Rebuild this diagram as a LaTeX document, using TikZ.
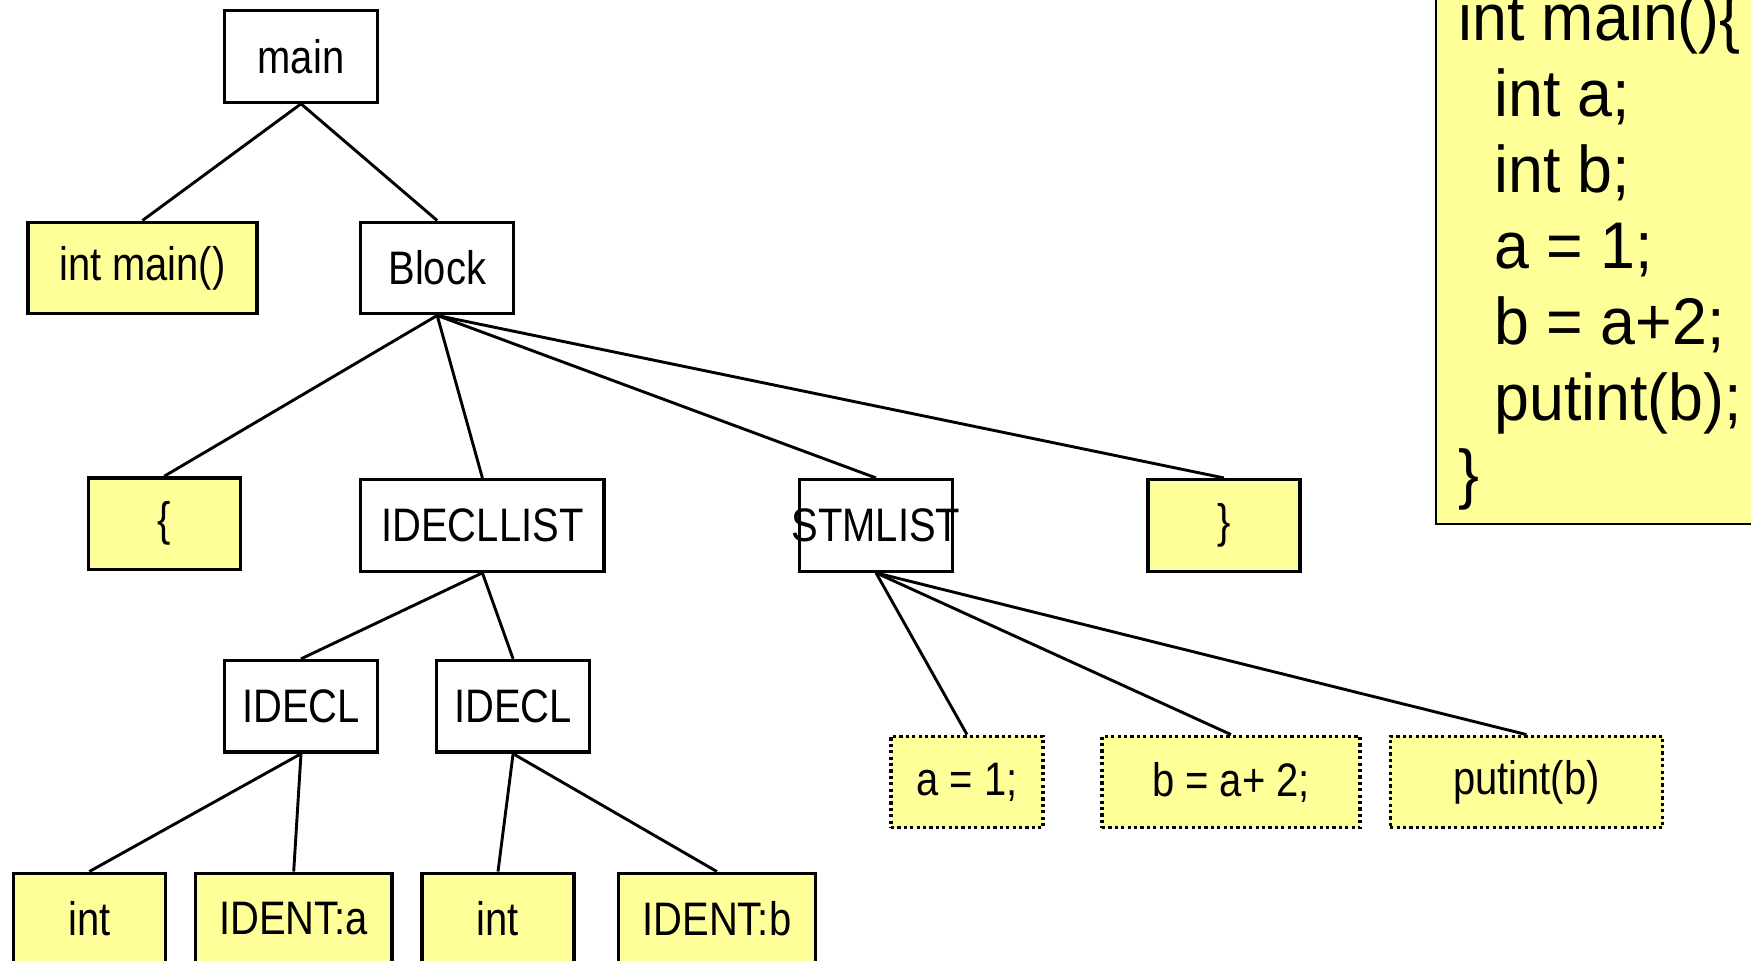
\documentclass[tikz,border=0pt]{standalone}
\usepackage{fontspec}
\newfontfamily\treefont[FakeStretch=0.85]{Liberation Sans}
\newfontfamily\codefont[FakeStretch=0.95]{Liberation Sans}
\definecolor{nodeyellow}{RGB}{255,255,153}
\begin{document}
\begin{tikzpicture}[x=0.5pt,y=-0.5pt,
  box/.style={draw=black,line width=1.65pt,minimum height=45.8pt,inner sep=0pt,
    font=\treefont\fontsize{23.5}{28}\selectfont,text=black},
  yel/.style={box,fill=nodeyellow},
  wht/.style={box,fill=white},
  dotbox/.style={box,fill=nodeyellow,line width=1.6pt,dash pattern=on 1.6pt off 1.6pt},
  link/.style={line width=1.45pt,draw=black},
  codeline/.style={anchor=base west,inner sep=0pt,font=\codefont\fontsize{33}{38}\selectfont}
]
\clip (0,0) rectangle (1751,961);
\useasboundingbox (0,0) rectangle (1751,961);
\fill[white] (0,0) rectangle (1751,961);

% code box
\path[draw=black,line width=1.1pt,fill=nodeyellow] (1436,-10) rectangle (1760,523.7);
\node[codeline] (c1) at (1458,41) {int main()\{};
\node[codeline] (c2) at (1494,117) {int a;};
\node[codeline] (c3) at (1494,193) {int b;};
\node[codeline] (c4) at (1494,269) {a = 1;};
\node[codeline] (c5) at (1494,345) {b = a+2;};
\node[codeline] (c6) at (1494,421) {putint(b);};
\node[codeline] (c7) at (1458,497) {\}};

% tree nodes
\node[wht,minimum width=76.5pt] (main) at (301,56.4) {main};
\node[yel,minimum width=114.5pt] (intmain) at (142.4,268) {int main()};
\node[wht,minimum width=76.5pt] (block) at (437.2,268) {Block};
\node[yel,minimum width=76pt] (lbrace) at (164.2,523.7) {\{};
\node[wht,minimum width=121.7pt] (idecllist) at (482.4,525.4) {IDECLLIST};
\node[wht,minimum width=76.5pt] (stmlist) at (876,525.4) {\makebox[0pt]{STMLIST}};
\node[yel,minimum width=76pt] (rbrace) at (1223.9,525.4) {\}};
\node[wht,minimum width=76.5pt] (idecla) at (301,706.3) {IDECL};
\node[wht,minimum width=76.5pt] (ideclb) at (513.1,706.3) {IDECL};
\node[yel,minimum width=76pt] (inta) at (89.3,919) {int};
\node[yel,minimum width=98.25pt] (identa) at (293.7,919) {IDENT:a};
\node[yel,minimum width=76pt] (intb) at (498,919) {int};
\node[yel,minimum width=98.25pt] (identb) at (716.9,919) {IDENT:b};
\node[dotbox,minimum width=76pt] (s1) at (967,782) {a = 1;};
\node[dotbox,minimum width=129pt] (s2) at (1231,782) {b = a+ 2;};
\node[dotbox,minimum width=136.25pt] (s3) at (1526.5,782) {putint(b)};

% connectors
\draw[link] (main.south) -- (intmain.north);
\draw[link] (main.south) -- (block.north);
\draw[link] (block.south) -- (lbrace.north);
\draw[link] (block.south) -- (idecllist.north);
\draw[link] (block.south) -- (stmlist.north);
\draw[link] (block.south) -- (rbrace.north);
\draw[link] (idecllist.south) -- (idecla.north);
\draw[link] (idecllist.south) -- (ideclb.north);
\draw[link] (idecla.south) -- (inta.north);
\draw[link] (idecla.south) -- (identa.north);
\draw[link] (ideclb.south) -- (intb.north);
\draw[link] (ideclb.south) -- (identb.north);
\draw[link] (stmlist.south) -- (s1.north);
\draw[link] (stmlist.south) -- (s2.north);
\draw[link] (stmlist.south) -- (s3.north);
\end{tikzpicture}
\end{document}
